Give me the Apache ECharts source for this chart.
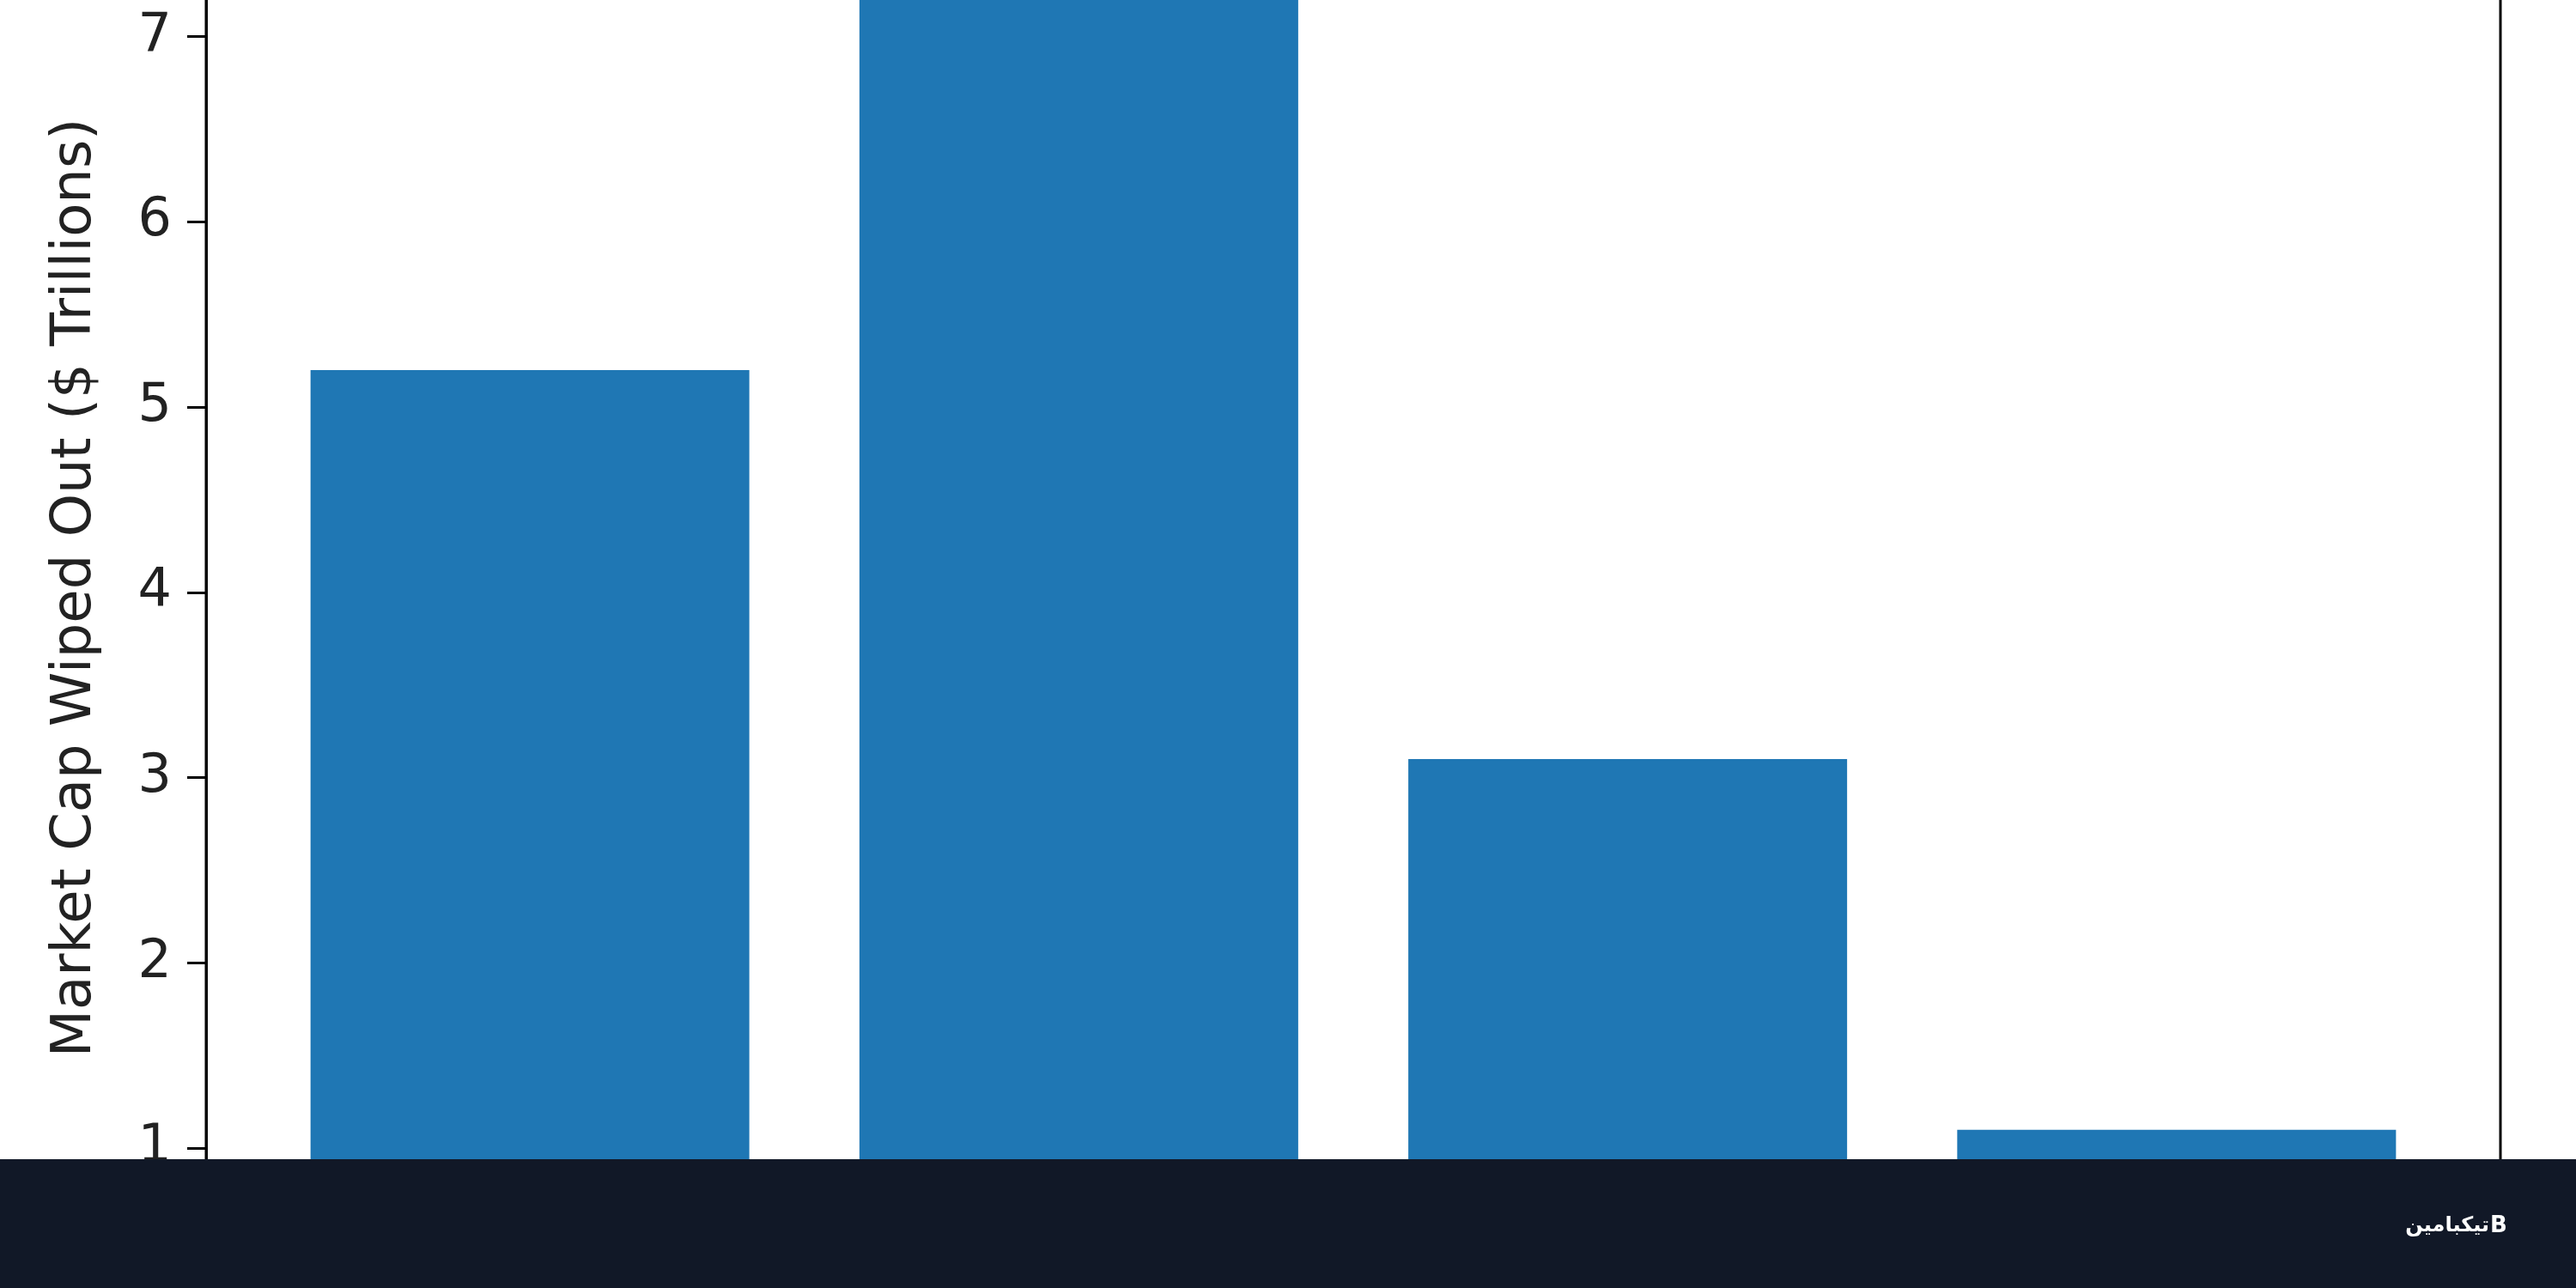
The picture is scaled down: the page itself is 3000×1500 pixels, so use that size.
<!DOCTYPE html>
<html>
<head>
<meta charset="utf-8">
<script src="https://cdn.jsdelivr.net/npm/echarts@6/dist/echarts.min.js"></script>
<style>
html,body{margin:0;padding:0;background:#fff;overflow:hidden;width:3000px;height:1500px;}
#chart{position:absolute;left:0;top:-184px;width:3000px;height:1737px;}
</style>
</head>
<body>
<div id="chart"></div>
<script>
// Data (category names are cropped out of the reference)
const barPositions = [0, 1, 2, 3];
const marketCapWiped = [5.2, 7.7, 3.1, 1.1];
const yTickValues = [1, 2, 3, 4, 5, 6, 7];
const yAxisTitle = 'Market Cap Wiped Out ($ Trillions)';
const footerBrand = 'تیکبامین';

const chart = echarts.init(document.getElementById('chart'));
const seriesData = barPositions.map((x, i) => [x, marketCapWiped[i]]);
const OFFSET = 184; // chart div is shifted up by this many pixels

chart.setOption({
  backgroundColor: '#ffffff',
  animation: false,
  grid: {
    left: 240, right: 88, top: 0, bottom: 0,
    outerBoundsMode: 'none', containLabel: false,
    show: true, borderColor: '#000', borderWidth: 3, backgroundColor: 'transparent'
  },
  xAxis: {
    type: 'value', min: -0.59, max: 3.59,
    axisLine: { show: false }, axisTick: { show: false },
    axisLabel: { show: false }, splitLine: { show: false }
  },
  yAxis: {
    type: 'value', min: 0, max: 8.05, interval: 1,
    axisLine: { show: true, onZero: false, lineStyle: { color: '#000', width: 3 } },
    axisTick: { show: true, length: 22, lineStyle: { color: '#000', width: 3 } },
    axisLabel: {
      fontSize: 62, color: '#222', fontFamily: 'DejaVu Sans', margin: 40,
      showMaxLabel: false, showMinLabel: false,
      formatter: v => yTickValues.includes(v) ? String(v) : ''
    },
    splitLine: { show: false },
    name: yAxisTitle, nameLocation: 'middle', nameRotate: 90, nameGap: 120,
    nameTextStyle: { fontSize: 64, color: '#222', fontFamily: 'DejaVu Sans' }
  },
  series: [{
    type: 'bar',
    data: seriesData,
    barWidth: 511,
    itemStyle: { color: '#1f77b4' },
    clip: true
  }],
  graphic: [
    { type: 'rect', left: 0, top: 1350 + OFFSET, shape: { width: 3000, height: 250 },
      style: { fill: '#111827' }, z: 100 },
    { type: 'text', x: 2899, y: 1428 + OFFSET, z: 101,
      style: { text: footerBrand, fill: '#ffffff', font: 'bold 24px "DejaVu Sans"',
               textAlign: 'right', textVerticalAlign: 'middle' } },
    { type: 'text', x: 2900, y: 1428 + OFFSET, z: 101,
      style: { text: 'B', fill: '#ffffff', font: 'bold 26px "DejaVu Sans"',
               textAlign: 'left', textVerticalAlign: 'middle' } }
  ]
});
</script>
</body>
</html>
